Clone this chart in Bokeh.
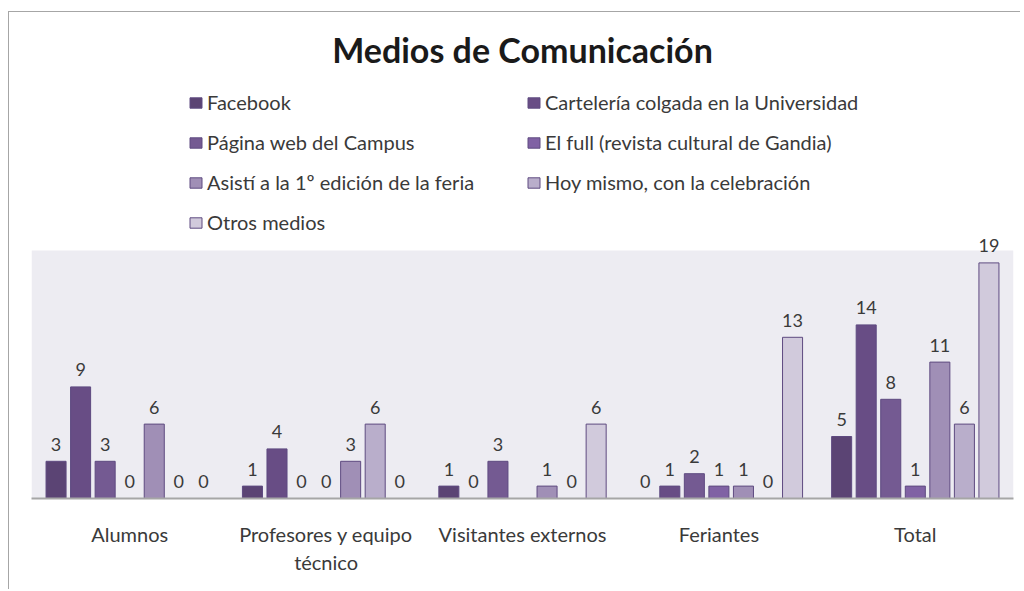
import math
from bokeh.plotting import figure
from bokeh.models import FactorRange, Range1d, Legend, LegendItem, Label, ColumnDataSource, BoxAnnotation
from bokeh.transform import dodge
from bokeh.core.properties import value
from bokeh.embed import file_html
from bokeh.resources import INLINE

# ---- data ----
categories = ["Alumnos", "Profesores y equipo\ntécnico", "Visitantes externos", "Feriantes", "Total"]
series_names = [
    "Facebook",
    "Cartelería colgada en la Universidad",
    "Página web del Campus",
    "El full (revista cultural de Gandia)",
    "Asistí a la 1º edición de la feria",
    "Hoy mismo, con la celebración",
    "Otros medios",
]
facebook = [3, 1, 1, 0, 5]
carteleria = [9, 4, 0, 1, 14]
pagina_web = [3, 0, 3, 2, 8]
el_full = [0, 0, None, 1, 1]
asisti = [6, 3, 1, 1, 11]
hoy_mismo = [0, 6, 0, 0, 6]
otros = [0, 0, 6, 13, 19]
series_values = [facebook, carteleria, pagina_web, el_full, asisti, hoy_mismo, otros]
axis_max = 20

colors = ["#5B4474", "#684D85", "#745A92", "#8062A4", "#A08FB6", "#B9AECB", "#D1CADC"]
border = "#5E4A80"
FONT = "Lato"
TXT = "#3A3A3A"

# frame spans screen y 20..498; value axis 0..20 occupies the bottom 248 px
px_per_unit = 12.4
frame_h = 478
y_end = frame_h / px_per_unit

p = figure(
    x_range=FactorRange(*categories, range_padding=0),
    y_range=Range1d(0, y_end),
    width=1012, height=578,
    output_backend="svg", toolbar_location=None,
    min_border_left=22, min_border_right=8, min_border_top=8, min_border_bottom=92,
)
p.margin = (11, 0, 0, 8)
p.styles = {"border-left": "1px solid #A6A6A6", "border-top": "1px solid #A6A6A6"}
p.background_fill_color = "white"
p.border_fill_color = "white"
p.outline_line_color = None
p.xgrid.visible = False
p.ygrid.visible = False
p.yaxis.visible = False

# plot-area background (value range 0..axis_max)
p.add_layout(BoxAnnotation(bottom=0, top=axis_max, fill_color="#EDECF2", fill_alpha=1,
                           line_color=None, level="underlay"))

xa = p.xaxis[0]
xa.axis_line_color = "#A6A6A6"
xa.axis_line_width = 2
xa.major_tick_line_color = None
xa.minor_tick_line_color = None
xa.major_tick_out = 0
xa.major_tick_in = 0
xa.major_label_standoff = 23
xa.major_label_text_font = FONT
xa.major_label_text_font_size = "20px"
xa.major_label_text_color = TXT

slot = 1.0 / 8
bar_w = 0.102
renderers = {}
for i, (name, vals) in enumerate(zip(series_names, series_values)):
    top = [float("nan") if v is None else v for v in vals]
    lab = ["" if v is None else str(v) for v in vals]
    src = ColumnDataSource(dict(cat=categories, top=top, lab=lab))
    off = (i - 3) * slot
    r = p.vbar(x=dodge("cat", off, range=p.x_range), top="top", width=bar_w, source=src,
               fill_color=colors[i], line_color=border, line_width=1)
    p.text(x=dodge("cat", off, range=p.x_range), y="top", text="lab", source=src,
           text_align="center", text_baseline="alphabetic", y_offset=-17,
           text_font=value(FONT), text_font_size="18px", text_color=TXT)
    renderers[name] = r

# legend fills column-major; order so rows read left-to-right like the reference
legend_order = [0, 2, 4, 6, 1, 3, 5]
items = [LegendItem(label=series_names[k], renderers=[renderers[series_names[k]]]) for k in legend_order]

legend = Legend(items=items, location=(157, 264), ncols=2,
                glyph_width=15, glyph_height=13, label_height=20, spacing=16,
                label_width=303, label_standoff=4, padding=0, margin=0,
                border_line_color=None, background_fill_alpha=0,
                label_text_font=FONT, label_text_font_size="20px", label_text_color=TXT)
p.add_layout(legend)

title = Label(x=2.5, y=(498 - 49) / px_per_unit, text="Medios de Comunicación", text_align="center",
              text_baseline="alphabetic", text_font=FONT, text_font_size="34px",
              text_font_style="bold", text_color="#1A1A1A")
p.add_layout(title)

open("out.html", "w").write(file_html(p, INLINE))
